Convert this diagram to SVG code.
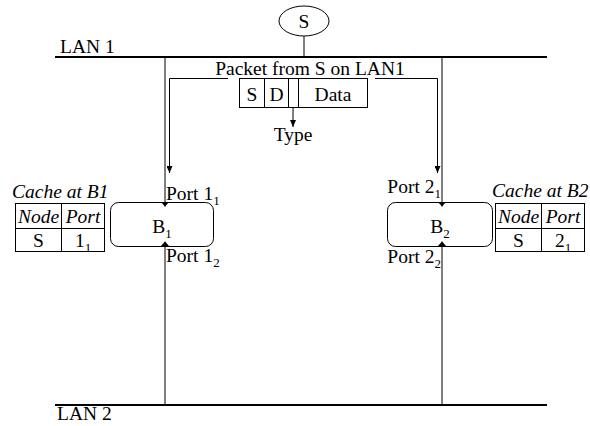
<svg xmlns="http://www.w3.org/2000/svg" width="590" height="426" viewBox="0 0 590 426">
<style>
text{font-family:"Liberation Serif","Times New Roman",serif;font-size:19.5px;fill:#000}
.it{font-style:italic}
.sub{font-size:13px}
.m{text-anchor:middle}
.lan{stroke:#000;stroke-width:2;fill:none}
.ln{stroke:#000;stroke-width:1;fill:none}
.box{stroke:#000;stroke-width:1;fill:#fff}
</style>
<defs>
<marker id="flat" viewBox="0 0 10 10" refX="10" refY="5" markerWidth="5" markerHeight="9" markerUnits="userSpaceOnUse" orient="auto" preserveAspectRatio="none"><path d="M0,0 L10,5 L0,10 z" fill="#000"/></marker>
<marker id="ah" viewBox="0 0 10 10" refX="10" refY="5" markerWidth="7" markerHeight="6" markerUnits="userSpaceOnUse" orient="auto" preserveAspectRatio="none"><path d="M0,0 L10,5 L0,10 z" fill="#000"/></marker>
</defs>
<g id="lan1"><text x="60" y="53">LAN 1</text></g>
<g id="lan2"><text x="57" y="420">LAN 2</text></g>
<g id="S">
<ellipse class="box" cx="304" cy="21" rx="25" ry="15"/>
<text class="m" x="304" y="28">S</text>
</g>
<g id="packet">
<text class="m" x="310" y="75">Packet from S on LAN1</text>
<rect class="box" x="239.5" y="78.5" width="128" height="29"/>
<line class="ln" x1="264.5" y1="78.5" x2="264.5" y2="107.5"/>
<line class="ln" x1="288.5" y1="78.5" x2="288.5" y2="107.5"/>
<line class="ln" x1="298.5" y1="78.5" x2="298.5" y2="107.5"/>
<text class="m" x="252" y="101">S</text>
<text class="m" x="276.5" y="101">D</text>
<text class="m" x="333" y="101">Data</text>
<text class="m" x="293" y="141">Type</text>
</g>
<g id="B1">
<rect class="box" x="110.5" y="202.5" width="103" height="44" rx="8"/>
<text class="m" x="162" y="233">B<tspan class="sub" dy="5">1</tspan></text>
<text x="166" y="200">Port 1<tspan class="sub" dy="5">1</tspan></text>
<text x="166" y="262">Port 1<tspan class="sub" dy="5">2</tspan></text>
</g>
<g id="B2">
<rect class="box" x="387.5" y="202.5" width="105" height="44" rx="8"/>
<text class="m" x="440" y="233">B<tspan class="sub" dy="5">2</tspan></text>
<text x="441" y="193" text-anchor="end">Port 2<tspan class="sub" dy="5">1</tspan></text>
<text x="441" y="263" text-anchor="end">Port 2<tspan class="sub" dy="5">2</tspan></text>
</g>
<g id="cacheB1">
<text class="it" x="12" y="198">Cache at B1</text>
<rect class="box" x="15.5" y="203.5" width="89" height="48"/>
<line class="ln" x1="61.5" y1="203.5" x2="61.5" y2="251.5"/>
<line class="ln" x1="15.5" y1="228.5" x2="104.5" y2="228.5"/>
<text class="it m" x="38.5" y="223">Node</text>
<text class="it m" x="83" y="223">Port</text>
<text class="m" x="38.5" y="247">S</text>
<text class="m" x="83" y="247">1<tspan class="sub" dy="5">1</tspan></text>
</g>
<g id="cacheB2">
<text class="it" x="492" y="197">Cache at B2</text>
<rect class="box" x="495.5" y="203.5" width="89" height="48"/>
<line class="ln" x1="541.5" y1="203.5" x2="541.5" y2="251.5"/>
<line class="ln" x1="495.5" y1="228.5" x2="584.5" y2="228.5"/>
<text class="it m" x="518.5" y="223">Node</text>
<text class="it m" x="563" y="223">Port</text>
<text class="m" x="518.5" y="247">S</text>
<text class="m" x="563" y="247">2<tspan class="sub" dy="5">1</tspan></text>
</g>
<g id="connectors">
<line class="lan" x1="55" y1="57" x2="547" y2="57"/>
<line class="lan" x1="55" y1="405" x2="547" y2="405"/>
<line class="ln" x1="304" y1="36" x2="304" y2="57"/>
<line class="ln" x1="165" y1="57" x2="165" y2="206.5" marker-end="url(#flat)"/>
<line class="ln" x1="165" y1="405" x2="165" y2="241.5" marker-end="url(#flat)"/>
<line class="ln" x1="442" y1="57" x2="442" y2="206.5" marker-end="url(#flat)"/>
<line class="ln" x1="442" y1="405" x2="442" y2="241.5" marker-end="url(#flat)"/>
<polyline class="ln" points="228,78.5 169.5,78.5 169.5,173" marker-end="url(#ah)"/>
<polyline class="ln" points="375,78.5 437.5,78.5 437.5,173" marker-end="url(#ah)"/>
<line class="ln" x1="293" y1="108" x2="293" y2="127" marker-end="url(#ah)"/>
</g>
</svg>
